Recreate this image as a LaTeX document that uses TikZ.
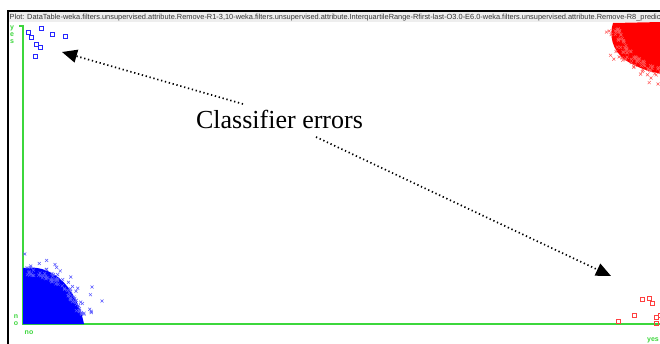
\documentclass[tikz,border=0pt]{standalone}
\usepackage{fontspec}
\setmainfont{Liberation Serif}
\newfontfamily\uifont{Liberation Sans}
\usetikzlibrary{arrows.meta}

\definecolor{axisgreen}{RGB}{60,215,60}
\definecolor{barcolor}{RGB}{238,238,238}

\tikzset{
  sqblue/.style={draw=blue!85, line width=0.6pt, minimum size=4pt, inner sep=0pt},
  sqred/.style={draw=red!75, line width=0.6pt, minimum size=4pt, inner sep=0pt},
  crossblue/.style={blue!65, line width=0.5pt},
  crossred/.style={red!65, line width=0.5pt},
  axislabel/.style={text=axisgreen, font=\uifont\bfseries\fontsize{7}{7}\selectfont, inner sep=0pt, align=center},
  errarrow/.style={line width=1.7pt, dash pattern=on 1.3pt off 2.7pt, -{Triangle[length=15pt,width=13pt]}}
}

\newcommand{\xcross}[3]{\draw[#1] (#2-1.5,#3-1.5) -- ++(3,3) (#2-1.5,#3+1.5) -- ++(3,-3);}

\begin{document}
\begin{tikzpicture}[x=1pt,y=-1pt]
		\useasboundingbox (0,0) rectangle (660,344);
		\clip (0,0) rectangle (660,344);
		\fill[white] (0,0) rectangle (660,344);
		
		% Title bar and frame
		\fill[barcolor] (8.5,11.5) rectangle (660,22);
		\draw[line width=1.5pt] (8,344) -- (8,11) -- (661,11);
		\node[anchor=base west, inner sep=0pt, font=\uifont\fontsize{7.4}{8}\selectfont, text=black!80] (plottitle) at (9.5,19.5)
			{Plot: DataTable-weka.filters.unsupervised.attribute.Remove-R1-3,10-weka.filters.unsupervised.attribute.InterquartileRange-Rfirst-last-O3.0-E6.0-weka.filters.unsupervised.attribute.Remove-R8\_predic};
		
		% Axes
		\draw[axisgreen, line width=1.2pt] (19,26) -- (23,26) -- (23,324) -- (660,324);
		\node[axislabel] (yestop) at (12,35) {y\\e\\s};
		\node[axislabel] (noleft) at (16,320) {n\\o};
		\node[axislabel] (nobottom) at (29,333) {no};
		\node[axislabel, anchor=west] (yesright) at (647,340) {yes};
		
		% Blue cluster (bottom left)
		\fill[blue] (23,324) -- (23,268) .. controls (45,265) and (60,276) .. (70,290)
			.. controls (78,302) and (82,314) .. (84,324) -- cycle;
		\pgfmathsetseed{11}
		\foreach \k in {1,...,90} {
			\pgfmathsetmacro\ang{10+80*rnd}
			\pgfmathsetmacro\rr{0.88+0.4*rnd*rnd}
			\pgfmathsetmacro\px{23+62*\rr*cos(\ang)}
			\pgfmathsetmacro\py{324-56*\rr*sin(\ang)}
			\xcross{crossblue}{\px}{\py}
		}
		\xcross{crossblue}{102}{301}
		\xcross{crossblue}{92}{287}
		
		% Red cluster (top right)
		\fill[red] (662,22) -- (613,23) .. controls (609,35) and (612,50) .. (625,60)
			.. controls (638,68) and (650,72) .. (662,74) -- cycle;
		\foreach \k in {1,...,90} {
			\pgfmathsetmacro\ang{10+80*rnd}
			\pgfmathsetmacro\rr{0.9+0.4*rnd*rnd}
			\pgfmathsetmacro\px{668-55*\rr*cos(\ang)}
			\pgfmathsetmacro\py{20+53*\rr*sin(\ang)}
			\xcross{crossred}{\px}{\py}
		}
		\xcross{crossred}{651}{78}
		\xcross{crossred}{658}{84}
		
		% Misclassified points
		\foreach \x/\y [count=\i] in {28/32, 31/37, 41/28, 52/34, 65/36, 36/44, 40/47, 35/56} {
			\node[sqblue] (blueerr\i) at (\x,\y) {};
		}
		\foreach \x/\y [count=\i] in {642/299, 649/298, 652/303, 634/315, 618/321, 656/317, 656/323, 660/315} {
			\node[sqred] (rederr\i) at (\x,\y) {};
		}
		
		% Label with arrows
		\node[anchor=base, inner sep=0pt, font=\fontsize{26}{28}\selectfont] (errlabel) at (279.5,129) {Classifier errors};
		\coordinate (tailblue) at (243,104);
		\coordinate (tipblue) at (62,52);
		\coordinate (tailred) at (316,137);
		\coordinate (tipred) at (611,276);
		\draw[errarrow] (tailblue) -- (tipblue);
		\draw[errarrow] (tailred) -- (tipred);
	\end{tikzpicture}
\end{document}
